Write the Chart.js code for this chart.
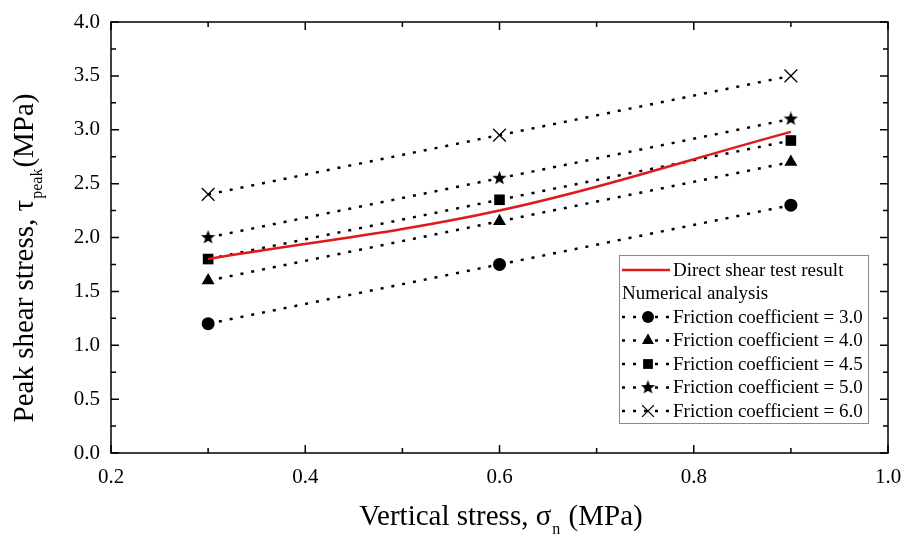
<!DOCTYPE html>
<html>
<head>
<meta charset="utf-8">
<script src="https://cdn.jsdelivr.net/npm/chart.js@4.4.0/dist/chart.umd.min.js"></script>
<style>
  html, body { margin: 0; padding: 0; background: #ffffff; }
  #wrap { width: 906px; height: 539px; }
</style>
</head>
<body>
<div id="wrap"><canvas id="shearChart"></canvas></div>
<script>
// values
const xStress = [0.3, 0.6, 0.9];
const directShear = [1.8, 2.25, 2.98];
const fc30 = [1.2, 1.75, 2.3];
const fc40 = [1.6, 2.15, 2.7];
const fc45 = [1.8, 2.35, 2.9];
const fc50 = [2.0, 2.55, 3.1];
const fc60 = [2.4, 2.95, 3.5];
const seriesLabels = ['Direct shear test result', 'Friction coefficient = 3.0', 'Friction coefficient = 4.0',
    'Friction coefficient = 4.5', 'Friction coefficient = 5.0', 'Friction coefficient = 6.0'];
const legendHeading = 'Numerical analysis';

const serif = "'Liberation Serif', 'Times New Roman', serif";

// filled five point star (chart.js 'star' is an asterisk)
function makeStar(size) {
    let c = document.createElement('canvas');
    c.width = size; c.height = size;
    let g = c.getContext('2d');
    let cx = size / 2, cy = size / 2, ro = size / 2, ri = ro * 0.42;
    g.beginPath();
    for (let i = 0; i < 10; i++) {
        let r = i % 2 === 0 ? ro : ri;
        let a = -Math.PI / 2 + i * Math.PI / 5;
        g.lineTo(cx + r * Math.cos(a), cy + r * Math.sin(a));
    }
    g.closePath();
    g.fillStyle = '#000';
    g.fill();
    return c;
}
const starImg = makeStar(15);

function pts(ys) {
    return xStress.map((x, i) => ({ x: x, y: ys[i] }));
}

function dotted(label, ys, style, radius) {
    return {
        label: label,
        data: pts(ys),
        borderColor: '#000',
        backgroundColor: '#000',
        borderWidth: 2.5,
        borderDash: [3, 8],
        pointStyle: style,
        pointRadius: radius,
        pointBorderWidth: style === 'crossRot' ? 1.3 : 0,
        tension: 0,
        order: 2
    };
}

const datasets = [
    {
        label: seriesLabels[0],
        data: pts(directShear),
        borderColor: '#e0191b',
        borderWidth: 2.5,
        pointRadius: 0,
        tension: 0.35,
        order: 1
    },
    dotted(seriesLabels[1], fc30, 'circle', 6.5),
    dotted(seriesLabels[2], fc40, 'triangle', 7.5),
    dotted(seriesLabels[3], fc45, 'rect', 7.5),
    dotted(seriesLabels[4], fc50, starImg, 7),
    dotted(seriesLabels[5], fc60, 'crossRot', 9)
];

// inward ticks on all four sides plus the top/right frame
const framePlugin = {
    id: 'frame',
    afterDraw(chart) {
        const ctx = chart.ctx;
        const a = chart.chartArea;
        const xs = chart.scales.x, ys = chart.scales.y;
        ctx.save();
        ctx.strokeStyle = '#000';
        ctx.lineWidth = 1.5;
        ctx.strokeRect(a.left, a.top, a.right - a.left, a.bottom - a.top);

        function tickSet(scale) {
            let vals = scale.ticks.map(t => t.value);
            let out = [];
            for (let i = 0; i < vals.length; i++) {
                out.push({ px: scale.getPixelForValue(vals[i]), len: 8 });
                if (i < vals.length - 1)
                    out.push({ px: scale.getPixelForValue((vals[i] + vals[i + 1]) / 2), len: 5 });
            }
            return out;
        }
        ctx.beginPath();
        tickSet(xs).forEach(t => {
            ctx.moveTo(t.px, a.bottom); ctx.lineTo(t.px, a.bottom - t.len);
            ctx.moveTo(t.px, a.top); ctx.lineTo(t.px, a.top + t.len);
        });
        tickSet(ys).forEach(t => {
            ctx.moveTo(a.left, t.px); ctx.lineTo(a.left + t.len, t.px);
            ctx.moveTo(a.right, t.px); ctx.lineTo(a.right - t.len, t.px);
        });
        ctx.stroke();

        // axis titles with subscripts
        ctx.fillStyle = '#000';
        ctx.textBaseline = 'alphabetic';
        const big = '29px ' + serif, small = '16px ' + serif;
        function subTitle(parts) {
            ctx.font = big;
            let w1 = ctx.measureText(parts[0]).width;
            let w3 = ctx.measureText(parts[2]).width;
            ctx.font = small;
            let w2 = ctx.measureText(parts[1]).width;
            return { w1: w1, w2: w2, w3: w3, total: w1 + w2 + w3 + 2 };
        }
        function drawSub(parts, m, x0, y0) {
            ctx.textAlign = 'left';
            ctx.font = big;
            ctx.fillText(parts[0], x0, y0);
            ctx.font = small;
            ctx.fillText(parts[1], x0 + m.w1 + 1, y0 + 9);
            ctx.font = big;
            ctx.fillText(parts[2], x0 + m.w1 + m.w2 + 2, y0);
        }
        const xt = ['Vertical stress, \u03c3', 'n', ' (MPa)'];
        let mx = subTitle(xt);
        drawSub(xt, mx, 501 - mx.total / 2, 525);

        const yt = ['Peak shear stress, \u03c4', 'peak', '(MPa)'];
        let my = subTitle(yt);
        ctx.save();
        ctx.translate(33, 258);
        ctx.rotate(-Math.PI / 2);
        drawSub(yt, my, -my.total / 2, 0);
        ctx.restore();

        ctx.restore();
    }
};

// legend box in the lower right, with a heading between the groups
const legendPlugin = {
    id: 'boxLegend',
    afterDatasetsDraw(chart) {
        const ctx = chart.ctx;
        const bx = 619, by = 255, bw = 249, bh = 168;
        const rowH = 23.5, y0 = 270;
        ctx.save();
        ctx.fillStyle = '#fff';
        ctx.fillRect(bx, by, bw, bh);
        ctx.strokeStyle = '#8a8a8a';
        ctx.lineWidth = 1;
        ctx.strokeRect(bx + 0.5, by + 0.5, bw, bh);

        ctx.font = '19px ' + serif;
        ctx.textBaseline = 'middle';
        ctx.textAlign = 'left';

        let rows = [{ ds: 0 }, { heading: legendHeading }, { ds: 1 }, { ds: 2 }, { ds: 3 }, { ds: 4 }, { ds: 5 }];
        rows.forEach((r, i) => {
            let y = y0 + i * rowH;
            ctx.fillStyle = '#000';
            if (r.heading) {
                ctx.fillText(r.heading, bx + 3, y + 1);
                return;
            }
            let d = chart.data.datasets[r.ds];
            ctx.strokeStyle = d.borderColor;
            ctx.lineWidth = d.borderWidth;
            ctx.setLineDash(d.borderDash || []);
            ctx.beginPath();
            ctx.moveTo(bx + 3, y);
            ctx.lineTo(bx + 51, y);
            ctx.stroke();
            ctx.setLineDash([]);
            if (d.pointRadius > 0) {
                ctx.fillStyle = '#000';
                ctx.strokeStyle = '#000';
                ctx.lineWidth = d.pointBorderWidth || 1;
                Chart.helpers.drawPoint(ctx, {
                    pointStyle: d.pointStyle,
                    radius: d.pointRadius * 0.92,
                    rotation: 0,
                    borderWidth: d.pointBorderWidth
                }, bx + 29, y);
            }
            ctx.fillStyle = '#000';
            ctx.fillText(d.label, bx + 54, y + 1);
        });
        ctx.restore();
    }
};

const shearChart = new Chart(document.getElementById('shearChart'), {
    type: 'line',
    data: { datasets: datasets },
    options: {
        responsive: true,
        maintainAspectRatio: false,
        animation: false,
        layout: { padding: { top: 22, right: 18, left: 0, bottom: 0 } },
        plugins: {
            legend: { display: false },
            tooltip: { enabled: false }
        },
        scales: {
            x: {
                type: 'linear',
                min: 0.2,
                max: 1.0,
                grid: { display: false, drawTicks: false },
                border: { display: false },
                ticks: {
                    stepSize: 0.2,
                    padding: 12,
                    color: '#000',
                    font: { family: serif, size: 21 },
                    callback: v => v.toFixed(1)
                },
                afterFit: s => {
                    s.height = 86;
                    s.paddingLeft = 0;
                    s.paddingRight = 0;
                }
            },
            y: {
                min: 0,
                max: 4.0,
                grid: { display: false, drawTicks: false },
                border: { display: false },
                ticks: {
                    stepSize: 0.5,
                    padding: 11,
                    color: '#000',
                    font: { family: serif, size: 21 },
                    callback: v => v.toFixed(1)
                },
                afterFit: s => {
                    s.width = 111;
                    s.paddingTop = 0;
                    s.paddingBottom = 0;
                }
            }
        }
    },
    plugins: [framePlugin, legendPlugin]
});
</script>
</body>
</html>
